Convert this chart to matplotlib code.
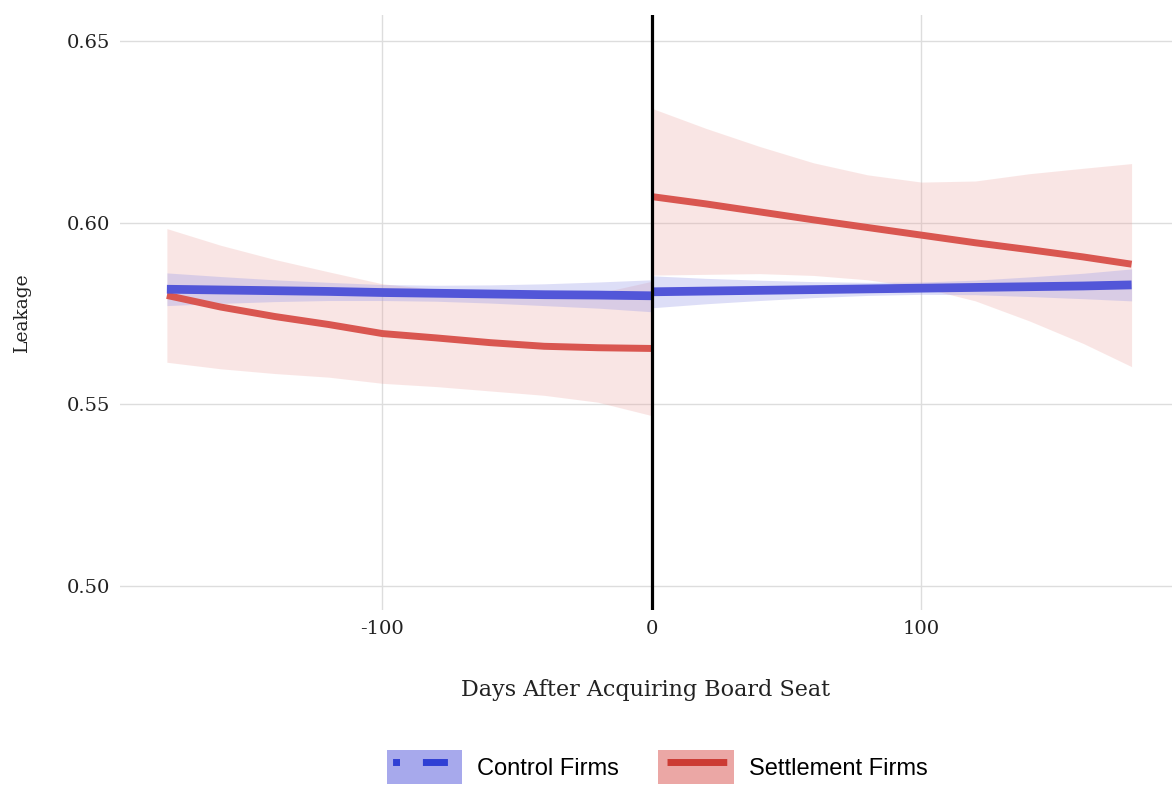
import numpy as np
import matplotlib.pyplot as plt
from matplotlib.patches import Patch
from matplotlib.lines import Line2D
from matplotlib.legend_handler import HandlerTuple

# days before / after the board seat
days_pre = [-180, -160, -140, -120, -100, -80, -60, -40, -20, 0]
days_post = [0, 20, 40, 60, 80, 100, 120, 140, 160, 178]

# control firms (fit + band half width)
ctrl_pre = [0.5817, 0.5815, 0.5813, 0.5811, 0.5808, 0.5806, 0.5804, 0.5802, 0.5801, 0.5799]
ctrl_pre_hw = [0.0045, 0.0037, 0.0030, 0.0025, 0.0022, 0.0022, 0.0025, 0.0030, 0.0036, 0.0044]
ctrl_post = [0.5810, 0.5812, 0.5814, 0.5816, 0.5818, 0.5820, 0.5822, 0.5824, 0.5826, 0.5829]
ctrl_post_hw = [0.0044, 0.0035, 0.0028, 0.0022, 0.0018, 0.0017, 0.0020, 0.0027, 0.0035, 0.0044]

# settlement firms (fit + band)
settle_pre = [0.5800, 0.5768, 0.5742, 0.5720, 0.5695, 0.5683, 0.5670, 0.5660, 0.5656, 0.5654]
settle_pre_lo = [0.5616, 0.5598, 0.5585, 0.5575, 0.5558, 0.5549, 0.5537, 0.5525, 0.5506, 0.5469]
settle_pre_hi = [0.5984, 0.5938, 0.5899, 0.5865, 0.5832, 0.5817, 0.5803, 0.5795, 0.5806, 0.5839]
settle_post = [0.6072, 0.6052, 0.6030, 0.6008, 0.5987, 0.5966, 0.5945, 0.5926, 0.5906, 0.5886]
settle_post_lo = [0.5856, 0.5858, 0.5860, 0.5855, 0.5843, 0.5822, 0.5785, 0.5730, 0.5668, 0.5604]
settle_post_hi = [0.6315, 0.6260, 0.6210, 0.6165, 0.6132, 0.6112, 0.6115, 0.6135, 0.6150, 0.6163]

x_ticks = [-100, 0, 100]
y_ticks = [0.50, 0.55, 0.60, 0.65]

blue = "#5256d8"
red = "#d95650"

fig = plt.figure(figsize=(11.72, 7.85), dpi=100)
ax = fig.add_axes([120 / 1172, 1 - 610 / 785, 1 - 120 / 1172, 595 / 785])

# settlement bands first, control on top
ax.fill_between(days_pre, settle_pre_lo, settle_pre_hi, color="#eb9a96", alpha=0.25, lw=0)
ax.fill_between(days_post, settle_post_lo, settle_post_hi, color="#eb9a96", alpha=0.25, lw=0)

c_pre = np.array(ctrl_pre)
c_post = np.array(ctrl_post)
ax.fill_between(days_pre, c_pre - ctrl_pre_hw, c_pre + ctrl_pre_hw, color="#9a9ce8", alpha=0.33, lw=0)
ax.fill_between(days_post, c_post - ctrl_post_hw, c_post + ctrl_post_hw, color="#9a9ce8", alpha=0.33, lw=0)

ax.plot(days_pre, settle_pre, color=red, lw=5, solid_capstyle="butt")
ax.plot(days_post, settle_post, color=red, lw=5, solid_capstyle="butt")
ax.plot(days_pre, ctrl_pre, color=blue, lw=6.3, solid_capstyle="butt")
ax.plot(days_post, ctrl_post, color=blue, lw=6.3, solid_capstyle="butt")

ax.axvline(0, color="black", lw=2.3, zorder=5)

ax.set_xlim(-197.4, 193)
ax.set_ylim(0.4934, 0.6572)
ax.set_xticks(x_ticks)
ax.set_xticklabels(["-100", "0", "100"])
ax.set_yticks(y_ticks)
ax.set_yticklabels(["0.50", "0.55", "0.60", "0.65"])
ax.grid(True, color="#dddddd", lw=1)
ax.set_axisbelow(True)
for s in ax.spines.values():
    s.set_visible(False)
ax.tick_params(length=0, labelsize=14, pad=7, labelcolor="#222222")
for lab in ax.get_xticklabels() + ax.get_yticklabels():
    lab.set_family("DejaVu Serif")

ax.set_xlabel("Days After Acquiring Board Seat", family="DejaVu Serif", fontsize=16, labelpad=30, color="#222222")
ax.set_ylabel("Leakage", family="DejaVu Serif", fontsize=13.5, labelpad=26, color="#222222")

# legend keys: filled square behind the line like ggplot
h_ctrl = (Patch(facecolor="#a7a9ec", edgecolor="none"),
          Line2D([], [], color="#2f3fd4", lw=5, dash_capstyle="butt",
                 linestyle=(17.1, (1.0, 3.3, 3.6, 10.0))))
h_set = (Patch(facecolor="#eba7a5", edgecolor="none"),
         Line2D([], [], color="#cc3b33", lw=5, dash_capstyle="butt",
                linestyle=(27.3, (8.6, 20.0))))
fig.legend([h_ctrl, h_set], ["Control Firms", "Settlement Firms"],
           handler_map={tuple: HandlerTuple(ndivide=1, pad=0)},
           loc="center", bbox_to_anchor=(657 / 1172, 1 - 767 / 785), ncol=2,
           frameon=False, prop={"family": "Liberation Sans", "size": 17},
           handlelength=3.2, handleheight=1.9, columnspacing=1.65, handletextpad=0.64)

fig.savefig("out.png", dpi=100)
